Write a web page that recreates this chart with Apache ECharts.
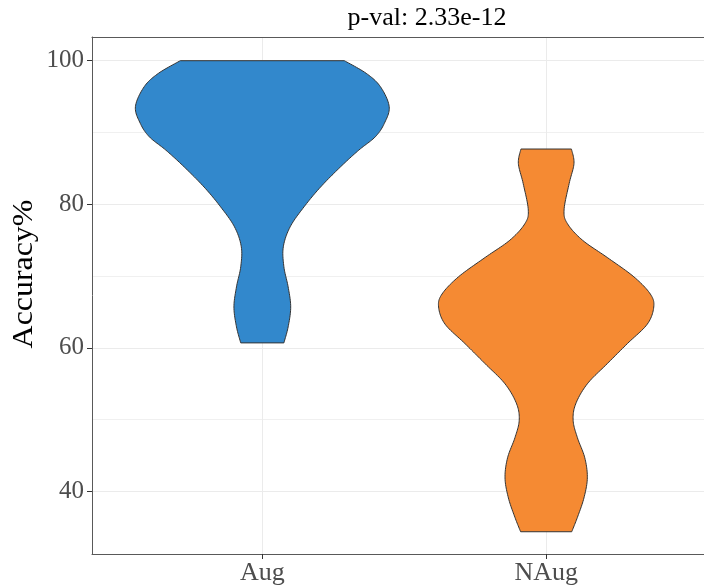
<!DOCTYPE html>
<html><head><meta charset="utf-8">
<script src="https://cdn.jsdelivr.net/npm/echarts@6/dist/echarts.min.js"></script>
<style>html,body{margin:0;padding:0;background:#fff}#c{width:704px;height:586px}</style>
</head><body><div id="c"></div>
<script>
// ---- data ----
const categories = ['Aug', 'NAug'];
const yTicks = [40, 60, 80, 100];
const yMinor = [50, 70, 90];
const titleText = 'p-val: 2.33e-12';
const yName = 'Accuracy%';
// violin outlines: accuracy level and half-width (density, in category units)
const augAcc   = [100, 98.24, 96.38, 93.6, 91.28, 89.4, 87.55, 85.2, 82.4, 79.65, 76.86, 74.08, 71.3, 68.5, 65.7, 62.93, 60.7];
const augWidth = [0.289, 0.366, 0.416, 0.447, 0.430, 0.398, 0.340, 0.275, 0.205, 0.147, 0.098, 0.074, 0.076, 0.091, 0.100, 0.091, 0.076];
const naugAcc   = [87.7, 85.7, 82.9, 79.2, 77.3, 75.0, 72.6, 69.9, 67.5, 65.7, 63.3, 60.6, 57.8, 55.0, 52.2, 49.9, 47.5, 44.7, 41.9, 39.1, 36.4, 34.4];
const naugWidth = [0.089, 0.098, 0.081, 0.063, 0.075, 0.128, 0.215, 0.309, 0.367, 0.379, 0.356, 0.286, 0.215, 0.145, 0.104, 0.095, 0.110, 0.136, 0.145, 0.133, 0.110, 0.090];

const violins = [
  { acc: augAcc, w: augWidth },
  { acc: naugAcc, w: naugWidth }
];
const fills = ['#3288cc', '#f58a33'];
const serif = '"Liberation Serif", "DejaVu Serif", serif';
const xMin = 0.4, xMax = 2.556, yMin = 31.3, yMax = 103.3;

function spline(pts) {
  const out = [];
  const n = pts.length;
  for (let i = 0; i < n - 1; i++) {
    const p0 = pts[Math.max(0, i - 1)], p1 = pts[i], p2 = pts[i + 1], p3 = pts[Math.min(n - 1, i + 2)];
    for (let s = 0; s < 12; s++) {
      const t = s / 12, t2 = t * t, t3 = t2 * t;
      const f = (a, b, c, d) => 0.5 * ((2 * b) + (-a + c) * t + (2 * a - 5 * b + 4 * c - d) * t2 + (-a + 3 * b - 3 * c + d) * t3);
      out.push([f(p0[0], p1[0], p2[0], p3[0]), f(p0[1], p1[1], p2[1], p3[1])]);
    }
  }
  out.push(pts[n - 1]);
  return out;
}

const borderLine = { show: true, onZero: false, lineStyle: { color: '#595959', width: 1 } };

const chart = echarts.init(document.getElementById('c'), null, { renderer: 'canvas' });
chart.setOption({
  animation: false,
  backgroundColor: '#ffffff',
  grid: { left: 92, top: 37, right: 0, height: 517, show: false, containLabel: false },
  graphic: [{
    type: 'text', x: 427, y: 18, z: 10,
    style: { text: titleText, font: '26px ' + serif, fill: '#000', align: 'center', verticalAlign: 'middle', textAlign: 'center', textVerticalAlign: 'middle' }
  }, {
    type: 'text', x: 24, y: 274, rotation: Math.PI / 2, scaleX: 1.1, z: 10,
    style: { text: yName, font: '29px ' + serif, fill: '#000', align: 'center', verticalAlign: 'middle', textAlign: 'center', textVerticalAlign: 'middle' }
  }],
  xAxis: [{
    type: 'value', min: xMin, max: xMax, position: 'bottom',
    axisLine: borderLine,
    axisTick: { show: true, length: 5, lineStyle: { color: '#333', width: 1 }, customValues: [1, 2] },
    axisLabel: { show: true, customValues: [1, 2], formatter: v => categories[Math.round(v) - 1] || '', fontFamily: serif, fontSize: 26, color: '#4d4d4d', margin: 6 },
    splitLine: { show: true, lineStyle: { color: '#ebebeb', width: 1 } }
  }, {
    type: 'value', min: xMin, max: xMax, position: 'top',
    axisLine: borderLine,
    axisTick: { show: false }, axisLabel: { show: false }, splitLine: { show: false }
  }],
  yAxis: [{
    type: 'value', min: yMin, max: yMax, position: 'left',
    axisLine: borderLine,
    axisTick: { show: true, length: 5, lineStyle: { color: '#333', width: 1 }, customValues: yTicks },
    axisLabel: { show: true, customValues: yTicks, fontFamily: serif, fontSize: 25, color: '#4d4d4d', margin: 8 },
    splitLine: { show: true, lineStyle: { color: '#ebebeb', width: 1 } }
  }, {
    type: 'value', min: yMin, max: yMax, position: 'left',
    axisLine: { show: false },
    axisTick: { show: false, customValues: yMinor },
    axisLabel: { show: false, customValues: yMinor },
    splitLine: { show: true, lineStyle: { color: '#f0f0f0', width: 1 } }
  }],
  series: [
    {
      type: 'custom', z: 3, xAxisIndex: 0, yAxisIndex: 0,
      data: categories.map((c, i) => [i + 1]),
      encode: { x: 0 },
      renderItem: function (params, api) {
        const i = params.dataIndex;
        const cx = api.value(0);
        const v = violins[i];
        const right = v.acc.map((a, k) => api.coord([cx + v.w[k], a]));
        const left = v.acc.map((a, k) => api.coord([cx - v.w[k], a]));
        const pts = spline(right).concat(spline(left).reverse());
        return {
          type: 'polygon',
          shape: { points: pts },
          style: { fill: fills[i], stroke: '#333333', lineWidth: 1 }
        };
      }
    }
  ]
});
</script>
</body></html>
